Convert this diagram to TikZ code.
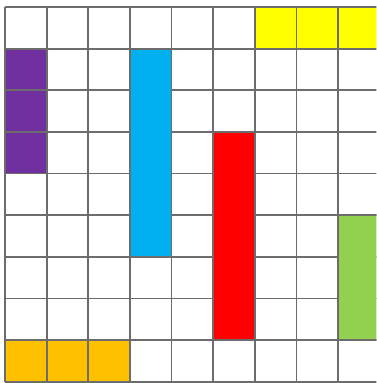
\documentclass[tikz,border=0pt]{standalone}
\definecolor{tilePurple}{HTML}{7030A0}
\definecolor{tileYellow}{HTML}{FFFF00}
\definecolor{tileOrange}{HTML}{FFC000}
\definecolor{tileBlue}{HTML}{00B0F0}
\definecolor{tileRed}{HTML}{FF0000}
\definecolor{tileGreen}{HTML}{92D050}
\begin{document}
\begin{tikzpicture}[x=1cm, y=-1cm,
  gridline/.style={draw=gray!85!black, line width=1.2pt},
  block/.style={fill=#1, draw=gray!85!black, line width=1.2pt}]
  \useasboundingbox (-0.12,-0.17) rectangle (8.92,9.03);
  \clip (-0.12,-0.17) rectangle (8.92,9.03);

  % blocks that keep their grid lines
  \fill[tilePurple] (0,1) rectangle (1,4);
  \fill[tileYellow] (6,0) rectangle (9,1);
  \fill[tileOrange] (0,8) rectangle (3,9);

  \draw[gridline] (0,0) grid (9,9);

  % solid bars
  \draw[block=tileBlue] (3,1) rectangle (4,6);
  \draw[block=tileRed] (5,3) rectangle (6,8);
  \draw[block=tileGreen] (8,5) rectangle (9,8);
\end{tikzpicture}
\end{document}
